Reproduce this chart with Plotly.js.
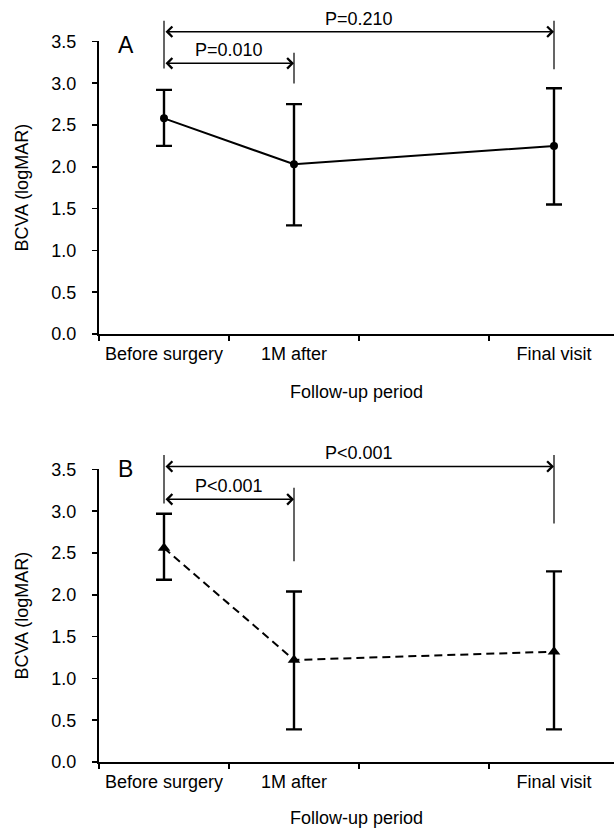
<!DOCTYPE html>
<html>
<head>
<meta charset="utf-8">
<script src="https://cdn.plot.ly/plotly-3.0.1.min.js"></script>
<style>html,body{margin:0;padding:0;background:#fff;overflow:hidden}#chart{width:614px;height:828px}</style>
</head>
<body>
<div id="chart"></div>
<script>
// ---- data ----
const categories = ['Before surgery', '1M after', ' ', 'Final visit'];
const visits = ['Before surgery', '1M after', 'Final visit'];
const meanA = [2.58, 2.03, 2.25];
const upperA = [2.92, 2.75, 2.94];
const lowerA = [2.25, 1.30, 1.55];
const meanB = [2.56, 1.22, 1.32];
const upperB = [2.97, 2.04, 2.28];
const lowerB = [2.18, 0.39, 0.39];
const pTextA = ['P=0.010', 'P=0.210'];
const pTextB = ['P&lt;0.001', 'P&lt;0.001'];
const panelLetters = ['A', 'B'];
const xTitle = 'Follow-up period';
const yTitle = 'BCVA (logMAR)';
const yTickVals = [0, 0.5, 1, 1.5, 2, 2.5, 3, 3.5];

const FONT = 'Arial, "Liberation Sans", sans-serif';
const idx = name => categories.indexOf(name);
const Y_MAX = 3.5;
const X_RANGE = [-0.5, 3.4615];
const PLOT_W = 614 - 99;
const pxPerCat = PLOT_W / (X_RANGE[1] - X_RANGE[0]);
const domA = [0.5966, 0.95];
const domB = [0.0797, 0.4331];

function errTrace(mean, upper, lower, xa, ya, marker, dash) {
  return {
    type: 'scatter', mode: 'lines+markers', x: visits, y: mean,
    xaxis: xa, yaxis: ya,
    line: {color: '#000', width: 2, dash: dash},
    marker: marker,
    error_y: {
      type: 'data', symmetric: false,
      array: upper.map((u, i) => +(u - mean[i]).toFixed(3)),
      arrayminus: lower.map((l, i) => +(mean[i] - l).toFixed(3)),
      color: '#000', thickness: 2.4, width: 8
    },
    showlegend: false, hoverinfo: 'skip', cliponaxis: false
  };
}

const traces = [
  errTrace(meanA, upperA, lowerA, 'x', 'y', {symbol: 'circle', size: 8, color: '#000'}, 'solid'),
  errTrace(meanB, upperB, lowerB, 'x2', 'y2', {symbol: 'triangle-up', size: 11, color: '#000'}, '8px,5px')
];

function bracketAnnotations(xr, yr, dom, g, texts, letter) {
  const b = idx('Before surgery'), m = idx('1M after'), f = idx('Final visit');
  const paperY = y => dom[0] + (y / Y_MAX) * (dom[1] - dom[0]);
  const line = (x, y0, y1) => ({
    xref: xr, yref: yr, axref: xr, ayref: yr, x: x, y: y1, ax: x, ay: y0,
    text: '', showarrow: true, arrowhead: 0, arrowwidth: 1.5, arrowcolor: '#333'
  });
  const arrow = (x0, x1, y) => ({
    xref: xr, yref: 'paper', axref: 'pixel', ayref: 'pixel',
    x: x1, y: paperY(y), ax: -(x1 - x0) * pxPerCat, ay: 0,
    text: '', showarrow: true, arrowside: 'end+start',
    arrowhead: 4, startarrowhead: 4, arrowsize: 1.35, startarrowsize: 1.35,
    arrowwidth: 1.5, arrowcolor: '#000'
  });
  const label = (x, y, t, size) => ({
    xref: xr, yref: 'paper', x: x, y: paperY(y), yanchor: 'middle',
    text: t, showarrow: false,
    font: {family: FONT, size: size, color: '#000'}
  });
  return [
    line(b, g.left[0], g.left[1]),
    line(m, g.shortRight[0], g.shortRight[1]),
    line(f, g.longRight[0], g.longRight[1]),
    arrow(b, m, g.shortY),
    arrow(b, f, g.longY),
    label((b + m) / 2, g.shortText, texts[0], 18),
    label((b + f) / 2, g.longText, texts[1], 18),
    label(g.letterX, g.letterY, letter, 23)
  ];
}

const geomA = {left: [3.158, 3.748], shortRight: [2.978, 3.365], longRight: [3.149, 3.748],
  shortY: 3.238, longY: 3.616, shortText: 3.397, longText: 3.768, letterX: -0.29, letterY: 3.457};
const geomB = {left: [3.074, 3.672], shortRight: [2.384, 3.281], longRight: [2.835, 3.672],
  shortY: 3.142, longY: 3.535, shortText: 3.301, longText: 3.693, letterX: -0.3, letterY: 3.499};

function xAxis(anchor) {
  return {
    type: 'category', categoryorder: 'array', categoryarray: categories,
    range: X_RANGE, domain: [0, 1], anchor: anchor,
    showline: true, linecolor: '#000', linewidth: 2,
    ticks: 'outside', tickson: 'boundaries', ticklen: 5, tickwidth: 1.5, tickcolor: '#000',
    ticklabelstandoff: 2,
    showgrid: false, zeroline: false,
    tickfont: {family: FONT, size: 18, color: '#000'},
    title: {text: xTitle, font: {family: FONT, size: 18, color: '#000'}, standoff: 23},
    fixedrange: true
  };
}
function yAxis(anchor, domain) {
  return {
    range: [0, Y_MAX], domain: domain, anchor: anchor,
    tickvals: yTickVals, tickformat: '.1f',
    showline: true, linecolor: '#000', linewidth: 2,
    ticks: 'outside', ticklen: 5, tickwidth: 1.5, tickcolor: '#000',
    ticklabelstandoff: 12,
    showgrid: false, zeroline: false,
    tickfont: {family: FONT, size: 18, color: '#000'},
    title: {text: yTitle, font: {family: FONT, size: 18, color: '#000'}, standoff: 18},
    fixedrange: true
  };
}

const layout = {
  width: 614, height: 828,
  margin: {l: 99, r: 0, t: 0, b: 0},
  paper_bgcolor: '#fff', plot_bgcolor: '#fff',
  font: {family: FONT, color: '#000'},
  showlegend: false,
  xaxis: xAxis('y'),
  yaxis: yAxis('x', domA),
  xaxis2: xAxis('y2'),
  yaxis2: yAxis('x2', domB),
  annotations: [
    ...bracketAnnotations('x', 'y', domA, geomA, pTextA, panelLetters[0]),
    ...bracketAnnotations('x2', 'y2', domB, geomB, pTextB, panelLetters[1])
  ]
};

Plotly.newPlot('chart', traces, layout, {staticPlot: true, displayModeBar: false});
</script>
</body>
</html>
